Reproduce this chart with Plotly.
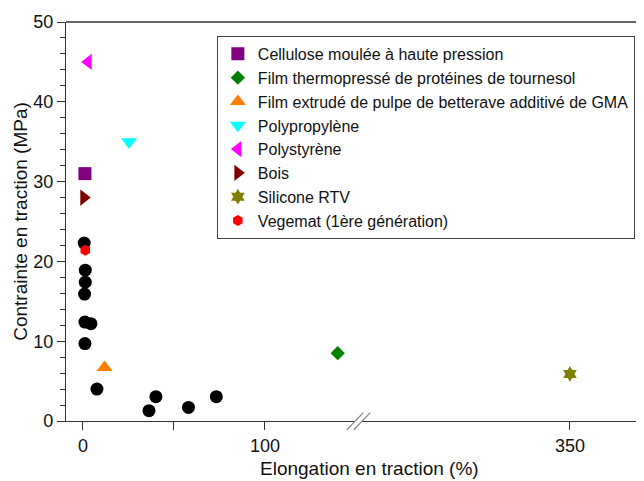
import plotly.graph_objects as go

# ---- data ----
series_names = [
    "Cellulose moulée à haute pression",
    "Film thermopressé de protéines de tournesol",
    "Film extrudé de pulpe de betterave additivé de GMA",
    "Polypropylène",
    "Polystyrène",
    "Bois",
    "Silicone RTV",
    "Vegemat (1ère génération)",
]
series_x = [1.1, 140, 11.9, 25.3, 2.9, 0.5, 350, 1.3]
series_y = [31.0, 8.5, 6.7, 35.0, 45.0, 28.0, 5.9, 21.4]
series_colors = ["#800080", "#008000", "#FF8000", "#00FFFF", "#FF00FF", "#800000", "#808000", "#FF0000"]
series_symbols = ["square", "diamond", "triangle-up", "triangle-down", "triangle-left",
                  "triangle-right", "hexagram", "hexagon"]
series_sizes = [13, 11, 14, 14, 14, 14, 12, 11]

other_x = [0.7, 1.3, 1.3, 0.9, 1.1, 4.4, 1.1, 7.7, 36.3, 40.1, 58.0, 73.3]
other_y = [22.3, 18.9, 17.4, 15.9, 12.4, 12.2, 9.7, 4.0, 1.3, 3.05, 1.7, 3.05]

BREAK_AT = 200  # values above this go on the right segment of the broken axis

fig = go.Figure()

fig.add_trace(go.Scatter(
    x=other_x, y=other_y, mode="markers", showlegend=False,
    marker=dict(symbol="circle", size=13, color="black"),
    xaxis="x", yaxis="y",
))

for name, x, y, c, s, sz in zip(series_names, series_x, series_y, series_colors, series_symbols, series_sizes):
    fig.add_trace(go.Scatter(
        x=[x], y=[y], name=name, mode="markers",
        marker=dict(symbol=s, size=sz, color=c, line=dict(width=0)),
        xaxis="x2" if x > BREAK_AT else "x", yaxis="y",
    ))

font = "Liberation Sans, Arial, sans-serif"
axis_common = dict(
    showline=True, linecolor="#333", linewidth=1.3, ticks="outside", ticklen=8,
    tickcolor="#333", tickwidth=1.3, showgrid=False, zeroline=False,
    tickfont=dict(size=18, color="#111", family=font),
)

fig.update_layout(
    width=636, height=473,
    margin=dict(l=58, r=0, t=14, b=60),
    plot_bgcolor="white", paper_bgcolor="white",
    font=dict(family=font, color="#111"),
    xaxis=dict(domain=[0, 0.5], range=[-9.3, 149.5], anchor="y",
               tickvals=[0, 50, 100], ticktext=["0", "", "100"], **axis_common),
    xaxis2=dict(domain=[0.512, 1], range=[235.7, 390.7], anchor="y",
                tickvals=[350], ticktext=["350"], **axis_common),
    yaxis=dict(range=[0, 50], tickvals=[0, 10, 20, 30, 40, 50],
               minor=dict(dtick=2, tick0=0, ticks="outside", ticklen=4.5, tickcolor="#333", tickwidth=1.3),
               title=dict(text="Contrainte en traction (MPa)", font=dict(size=19, family=font, color="#111"),
                          standoff=0),
               **axis_common),
    legend=dict(x=0.261, y=0.965, xanchor="left", yanchor="top",
                bordercolor="#444", borderwidth=1, bgcolor="white",
                font=dict(size=16, family=font, color="#111"),
                tracegroupgap=0, itemwidth=30),
    annotations=[dict(text="Elongation en traction (%)", x=0.525, y=-0.118, xref="paper", yref="paper",
                      xanchor="center", yanchor="middle", showarrow=False,
                      font=dict(size=19, family=font, color="#111"))],
    shapes=[
        dict(type="line", xref="paper", yref="paper", x0=0, x1=1, y0=1, y1=1,
             line=dict(color="#333", width=1.3)),
        dict(type="line", xref="paper", yref="paper", x0=0.4857, x1=0.5144, y0=-0.0226, y1=0.0208,
             line=dict(color="#888", width=1.2)),
        dict(type="line", xref="paper", yref="paper", x0=0.4977, x1=0.5264, y0=-0.0226, y1=0.0208,
             line=dict(color="#888", width=1.2)),
    ],
)

fig.write_html("out.html")
